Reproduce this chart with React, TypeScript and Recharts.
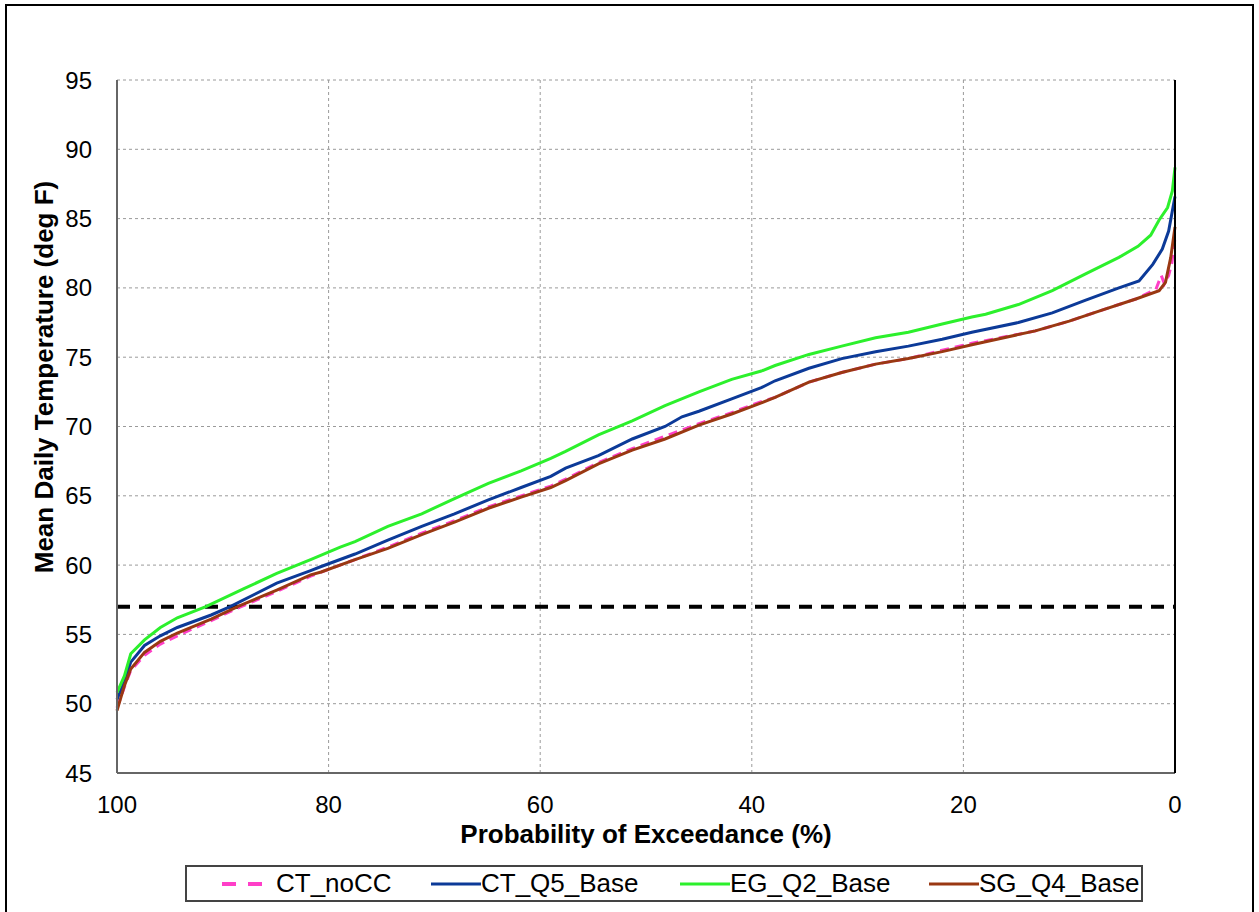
import React from 'react';
import { LineChart, Line, XAxis, YAxis, CartesianGrid, ReferenceLine, Legend } from 'recharts';

// Exceedance curves: probability (%) and mean daily temperature (deg F)
const ctNoCcProb = [100, 99.3, 98.7, 97.4, 95.9, 94.3, 91.1, 88.6, 84.9, 81.7, 80.7, 77.5, 74.4, 71.2, 68.1, 64.9, 61.8, 59.0, 57.6, 54.5, 51.3, 48.2, 45.0, 41.9, 39.1, 37.8, 34.6, 31.5, 28.3, 25.2, 22.0, 19.2, 13.2, 10.0, 6.9, 3.7, 1.8, 1.3, 1.0, 0.6, 0.3, 0];
const ctNoCcTemp = [49.7, 51.2, 52.4, 53.5, 54.3, 54.9, 56.0, 56.9, 58.1, 59.2, 59.5, 60.4, 61.3, 62.3, 63.2, 64.2, 65.0, 65.7, 66.2, 67.4, 68.4, 69.3, 70.2, 71.0, 71.8, 72.1, 73.2, 73.9, 74.5, 74.9, 75.5, 76.0, 76.9, 77.6, 78.4, 79.2, 79.9, 80.9, 80.3, 80.9, 81.8, 83.6];

const ctQ5Prob = [100, 99.3, 98.7, 97.4, 95.9, 94.3, 91.1, 89.3, 84.9, 81.7, 80.7, 77.5, 74.4, 71.2, 68.1, 64.9, 61.8, 59.0, 57.6, 54.5, 51.3, 48.2, 46.6, 45.0, 41.9, 39.1, 37.8, 34.6, 31.5, 28.3, 25.2, 22.0, 19.2, 14.8, 11.6, 8.5, 5.3, 3.4, 2.1, 1.2, 0.6, 0];
const ctQ5Temp = [50.3, 51.6, 53.0, 54.2, 54.9, 55.5, 56.4, 57.0, 58.7, 59.6, 59.9, 60.8, 61.8, 62.8, 63.7, 64.7, 65.6, 66.4, 67.0, 67.9, 69.1, 70.0, 70.7, 71.1, 72.0, 72.8, 73.3, 74.2, 74.9, 75.4, 75.8, 76.3, 76.8, 77.5, 78.2, 79.1, 80.0, 80.5, 81.7, 82.8, 84.1, 86.6];

const egQ2Prob = [100, 99.3, 98.7, 97.4, 95.9, 94.3, 91.6, 88.0, 84.9, 81.7, 78.9, 77.5, 74.4, 71.2, 68.1, 64.9, 61.8, 59.0, 57.6, 54.5, 51.3, 48.2, 45.0, 41.9, 39.1, 37.8, 34.6, 31.5, 28.3, 25.2, 22.0, 19.2, 17.9, 14.8, 11.6, 8.5, 5.3, 3.5, 2.3, 1.5, 0.7, 0.25, 0];
const egQ2Temp = [50.8, 52.0, 53.6, 54.6, 55.5, 56.2, 57.0, 58.3, 59.4, 60.4, 61.3, 61.7, 62.8, 63.7, 64.8, 65.9, 66.8, 67.7, 68.2, 69.4, 70.4, 71.5, 72.5, 73.4, 74.0, 74.4, 75.2, 75.8, 76.4, 76.8, 77.4, 77.9, 78.1, 78.8, 79.8, 81.0, 82.2, 83.0, 83.8, 84.9, 85.8, 87.0, 88.7];

const sgQ4Prob = [100, 99.3, 98.7, 97.4, 95.9, 94.3, 91.1, 88.6, 84.9, 81.7, 80.7, 77.5, 74.4, 71.2, 68.1, 64.9, 61.8, 59.0, 57.6, 54.5, 51.3, 48.2, 45.0, 41.9, 39.1, 37.8, 34.6, 31.5, 28.3, 25.2, 22.0, 19.2, 13.2, 10.0, 6.9, 3.7, 1.5, 0.9, 0.4, 0];
const sgQ4Temp = [49.5, 51.3, 52.5, 53.7, 54.5, 55.1, 56.1, 57.0, 58.2, 59.3, 59.5, 60.4, 61.2, 62.2, 63.1, 64.1, 64.9, 65.6, 66.1, 67.3, 68.3, 69.1, 70.1, 70.9, 71.7, 72.1, 73.2, 73.9, 74.5, 74.9, 75.4, 75.9, 76.9, 77.6, 78.4, 79.2, 79.8, 80.4, 82.2, 84.4];

const xTicks = [0, 20, 40, 60, 80, 100];
const yTicks = [45, 50, 55, 60, 65, 70, 75, 80, 85, 90, 95];
const threshold = 57;

const toPoints = (prob: number[], temp: number[]) => prob.map((p, i) => ({ p, t: temp[i] }));

const series = [
  { name: 'CT_noCC', data: toPoints(ctNoCcProb, ctNoCcTemp), color: '#ff3fc8', dash: '9 6', slot: 209 },
  { name: 'CT_Q5_Base', data: toPoints(ctQ5Prob, ctQ5Temp), color: '#0c3a98', dash: undefined, slot: 249 },
  { name: 'EG_Q2_Base', data: toPoints(egQ2Prob, egQ2Temp), color: '#2cf02c', dash: undefined, slot: 249 },
  { name: 'SG_Q4_Base', data: toPoints(sgQ4Prob, sgQ4Temp), color: '#9a3812', dash: undefined, slot: 212 },
];

const FONT = '"Liberation Sans", Arial, sans-serif';
const tickStyle = { fill: '#000', fontSize: 24, fontFamily: FONT };

const LegendBox = () => (
  <div
    style={{
      width: 958,
      height: 37,
      boxSizing: 'border-box',
      border: '2px solid #444',
      background: '#fff',
      display: 'flex',
      alignItems: 'center',
      paddingLeft: 35,
      fontFamily: FONT,
      fontSize: 26,
      color: '#000',
      whiteSpace: 'nowrap',
    }}
  >
    {series.map(s => (
      <div key={s.name} style={{ width: s.slot, flexShrink: 0, display: 'flex', alignItems: 'center' }}>
        {s.dash ? (
          <svg width={54} height={10}>
            <line x1={0} y1={5} x2={40} y2={5} stroke={s.color} strokeWidth={4} strokeDasharray="14 12" />
          </svg>
        ) : (
          <svg width={50} height={10}>
            <line x1={0} y1={5} x2={50} y2={5} stroke={s.color} strokeWidth={3} />
          </svg>
        )}
        <span>{s.name}</span>
      </div>
    ))}
  </div>
);

export default function App() {
  return (
    <div style={{ position: 'absolute', left: 0, top: 0, width: 1259, height: 912, background: '#fff', overflow: 'hidden' }}>
      <div style={{ position: 'absolute', left: 5, top: 4, width: 1249, height: 930, border: '2px solid #000', boxSizing: 'border-box' }} />
      <LineChart width={1259} height={912} margin={{ top: 80, right: 74, bottom: 79, left: 57 }}>
        <CartesianGrid stroke="#9a9a9a" strokeDasharray="3 3" />
        <XAxis
          type="number"
          dataKey="p"
          domain={[0, 100]}
          ticks={xTicks}
          reversed
          height={60}
          tickSize={0}
          tickMargin={23}
          tickLine={false}
          axisLine={{ stroke: '#666', strokeWidth: 2 }}
          tick={tickStyle}
          label={{
            content: () => (
              <text x={646} y={843} textAnchor="middle" fontFamily={FONT} fontSize={26} fontWeight="bold" fill="#000">
                Probability of Exceedance (%)
              </text>
            ),
          }}
        />
        <XAxis xAxisId="top" orientation="top" type="number" domain={[0, 100]} height={0} tick={false} tickLine={false} axisLine={{ stroke: '#777', strokeWidth: 1.5 }} />
        <YAxis
          type="number"
          domain={[45, 95]}
          ticks={yTicks}
          width={60}
          tickSize={0}
          tickMargin={25}
          tickLine={false}
          axisLine={{ stroke: '#666', strokeWidth: 2 }}
          tick={tickStyle}
          label={{
            content: () => (
              <text x={53} y={377} transform="rotate(-90 53 377)" textAnchor="middle" fontFamily={FONT} fontSize={26} fontWeight="bold" fill="#000">
                Mean Daily Temperature (deg F)
              </text>
            ),
          }}
        />
        <YAxis
          yAxisId="right"
          orientation="right"
          type="number"
          domain={[45, 95]}
          ticks={yTicks}
          width={10}
          tick={false}
          tickSize={7}
          tickLine={{ stroke: '#000', strokeWidth: 1.5 }}
          axisLine={{ stroke: '#000', strokeWidth: 2 }}
        />
        <ReferenceLine y={threshold} stroke="#000" strokeWidth={4} strokeDasharray="13 9" />
        {series.map(s => (
          <Line
            key={s.name}
            data={s.data}
            dataKey="t"
            name={s.name}
            type="linear"
            stroke={s.color}
            strokeWidth={3}
            strokeDasharray={s.dash}
            dot={false}
            activeDot={false}
            isAnimationActive={false}
          />
        ))}
        <Legend
          layout="horizontal"
          verticalAlign="middle"
          align="center"
          wrapperStyle={{ position: 'absolute', left: 185, top: 865, width: 958, height: 37 }}
          content={() => <LegendBox />}
        />
      </LineChart>
    </div>
  );
}
